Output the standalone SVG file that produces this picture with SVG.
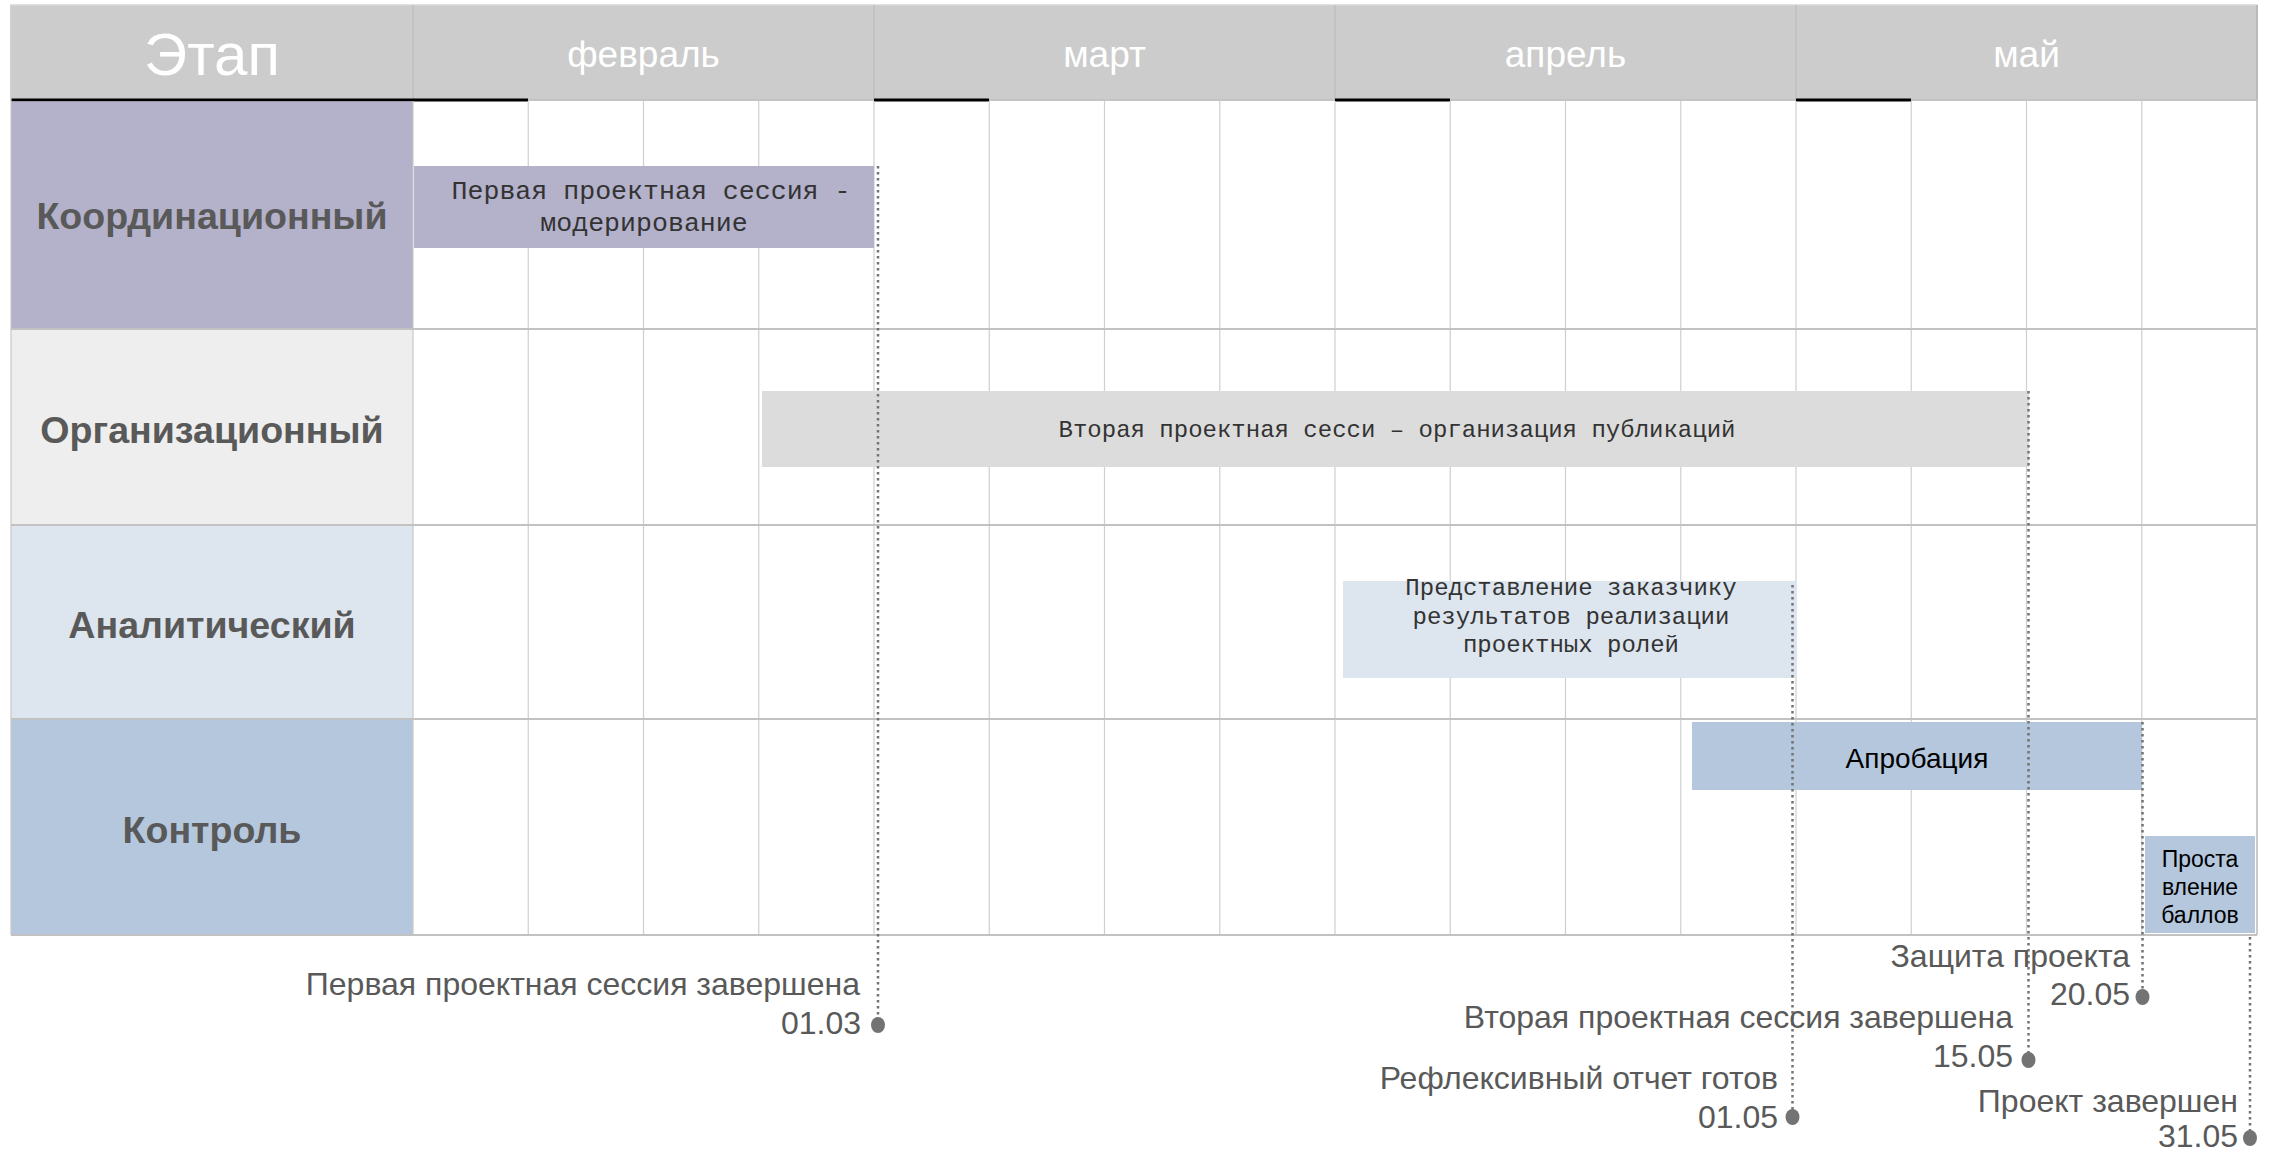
<svg xmlns="http://www.w3.org/2000/svg" width="2270" height="1153" viewBox="0 0 2270 1153">
<style>
.grid{stroke:#cfcfcf;stroke-width:1.2}
.rowline{stroke:#c2c2c2;stroke-width:1.8}
.hsep{stroke:#bdbdbd;stroke-width:1.2}
.thick{stroke:#000;stroke-width:3}
.stage{font-family:"Liberation Sans",Arial,sans-serif;font-weight:bold;font-size:37.6px;fill:#595959;text-anchor:middle}
.month{font-family:"Liberation Sans",Arial,sans-serif;font-size:37px;fill:#ffffff;text-anchor:middle}
.mono{font-family:"Liberation Mono","Courier New",monospace;fill:#333333;text-anchor:middle}
.sans{font-family:"Liberation Sans",Arial,sans-serif;fill:#000000;text-anchor:middle}
.ms{font-family:"Liberation Sans",Arial,sans-serif;font-size:32px;fill:#595959;text-anchor:end}
.dl{stroke:#737373;stroke-width:2.5;stroke-dasharray:2.5 3.5;fill:none}
.dot{fill:#737373}
</style>
<rect x="0" y="0" width="2270" height="1153" fill="#ffffff"/>

<!-- header -->
<g id="header">
  <rect x="11" y="5" width="2246" height="95" fill="#cccccc" stroke="#d6d6d6" stroke-width="1.5"/>
  <line class="hsep" x1="413" y1="5" x2="413" y2="100"/>
  <line class="hsep" x1="874" y1="5" x2="874" y2="100"/>
  <line class="hsep" x1="1335" y1="5" x2="1335" y2="100"/>
  <line class="hsep" x1="1796" y1="5" x2="1796" y2="100"/>
  <line x1="2257" y1="5" x2="2257" y2="100" stroke="#b0b0b0" stroke-width="1.5"/>
  <line x1="11" y1="100" x2="2257" y2="100" stroke="#bdbdbd" stroke-width="1.5"/>
  <text x="212" y="75" font-family="Liberation Sans, Arial, sans-serif" font-size="60" fill="#ffffff" text-anchor="middle">Этап</text>
  <text class="month" x="643.5" y="67">февраль</text>
  <text class="month" x="1104.5" y="67">март</text>
  <text class="month" x="1565.5" y="67">апрель</text>
  <text class="month" x="2026.5" y="67">май</text>
  <line class="thick" x1="11" y1="100" x2="528" y2="100"/>
  <line class="thick" x1="874" y1="100" x2="989" y2="100"/>
  <line class="thick" x1="1335" y1="100" x2="1450" y2="100"/>
  <line class="thick" x1="1796" y1="100" x2="1911" y2="100"/>
</g>

<!-- stage cells -->
<g id="stage-coord">
  <rect x="11" y="101.5" width="402" height="227.5" fill="#b4b1ca"/>
  <text class="stage" x="212" y="229">Координационный</text>
</g>
<g id="stage-org">
  <rect x="11" y="329" width="402" height="196" fill="#eeeeee"/>
  <text class="stage" x="212" y="443">Организационный</text>
</g>
<g id="stage-anal">
  <rect x="11" y="525" width="402" height="194" fill="#dde5ee"/>
  <text class="stage" x="212" y="638">Аналитический</text>
</g>
<g id="stage-ctrl">
  <rect x="11" y="719" width="402" height="216" fill="#b4c7dd"/>
  <text class="stage" x="212" y="843">Контроль</text>
</g>

<!-- grid -->
<g id="grid">
  <line class="grid" x1="528.25" y1="101" x2="528.25" y2="935"/>
  <line class="grid" x1="643.5" y1="101" x2="643.5" y2="935"/>
  <line class="grid" x1="758.75" y1="101" x2="758.75" y2="935"/>
  <line class="grid" x1="874" y1="101" x2="874" y2="935"/>
  <line class="grid" x1="989.25" y1="101" x2="989.25" y2="935"/>
  <line class="grid" x1="1104.5" y1="101" x2="1104.5" y2="935"/>
  <line class="grid" x1="1219.75" y1="101" x2="1219.75" y2="935"/>
  <line class="grid" x1="1335" y1="101" x2="1335" y2="935"/>
  <line class="grid" x1="1450.25" y1="101" x2="1450.25" y2="935"/>
  <line class="grid" x1="1565.5" y1="101" x2="1565.5" y2="935"/>
  <line class="grid" x1="1680.75" y1="101" x2="1680.75" y2="935"/>
  <line class="grid" x1="1796" y1="101" x2="1796" y2="935"/>
  <line class="grid" x1="1911.25" y1="101" x2="1911.25" y2="935"/>
  <line class="grid" x1="2026.5" y1="101" x2="2026.5" y2="935"/>
  <line class="grid" x1="2141.75" y1="101" x2="2141.75" y2="935"/>
  <line x1="413" y1="101" x2="413" y2="935" stroke="#c8c8c8" stroke-width="1.2"/>
  <line x1="2257" y1="100" x2="2257" y2="935" stroke="#b8b8b8" stroke-width="1.5"/>
  <line x1="11" y1="5" x2="11" y2="935" stroke="#c8c8c8" stroke-width="1.2"/>
  <line class="rowline" x1="11" y1="329" x2="2257" y2="329"/>
  <line class="rowline" x1="11" y1="525" x2="2257" y2="525"/>
  <line class="rowline" x1="11" y1="719" x2="2257" y2="719"/>
  <line class="rowline" x1="11" y1="935" x2="2257" y2="935"/>
</g>

<!-- bars -->
<g id="bar-first-session">
  <rect x="414" y="166" width="460" height="82" fill="#b4b1ca"/>
  <text class="mono" font-size="26.6" x="651" y="199">Первая проектная сессия -</text>
  <text class="mono" font-size="26.6" x="644" y="231">модерирование</text>
</g>
<g id="bar-second-session">
  <rect x="762" y="391" width="1267" height="76" fill="#dcdcdc"/>
  <text class="mono" font-size="24" x="1397" y="437">Вторая проектная сесси – организация публикаций</text>
</g>
<g id="bar-presentation">
  <rect x="1343" y="581" width="454" height="97" fill="#dde5ee"/>
  <text class="mono" font-size="24" x="1571" y="595">Представление заказчику</text>
  <text class="mono" font-size="24" x="1571" y="624">результатов реализации</text>
  <text class="mono" font-size="24" x="1571" y="652">проектных ролей</text>
</g>
<g id="bar-approbation">
  <rect x="1692" y="722" width="450" height="68" fill="#b4c7dd"/>
  <text class="sans" font-size="28" x="1917" y="768">Апробация</text>
</g>
<g id="bar-grading">
  <rect x="2145" y="836" width="110" height="97" fill="#b4c7dd"/>
  <text class="sans" font-size="23" x="2200" y="867">Проста</text>
  <text class="sans" font-size="23" x="2200" y="895">вление</text>
  <text class="sans" font-size="23" x="2200" y="923">баллов</text>
</g>

<!-- connectors -->
<g id="connectors">
  <line class="dl" x1="878" y1="166" x2="878" y2="1025"/>
  <line class="dl" x1="1792.5" y1="585" x2="1792.5" y2="1117"/>
  <line class="dl" x1="2028.5" y1="391" x2="2028.5" y2="1060"/>
  <line class="dl" x1="2142.5" y1="722" x2="2142.5" y2="997"/>
  <line class="dl" x1="2250" y1="937" x2="2250" y2="1138"/>
</g>

<!-- milestones -->
<g id="ms-0103">
  <ellipse class="dot" cx="878" cy="1025" rx="7" ry="8"/>
  <text class="ms" x="860" y="995">Первая проектная сессия завершена</text>
  <text class="ms" x="861" y="1034">01.03</text>
</g>
<g id="ms-0105">
  <ellipse class="dot" cx="1792.5" cy="1117" rx="7" ry="8"/>
  <text class="ms" x="1778" y="1089">Рефлексивный отчет готов</text>
  <text class="ms" x="1778" y="1128">01.05</text>
</g>
<g id="ms-1505">
  <ellipse class="dot" cx="2028.5" cy="1060" rx="7" ry="8"/>
  <text class="ms" x="2013" y="1028">Вторая проектная сессия завершена</text>
  <text class="ms" x="2013" y="1067">15.05</text>
</g>
<g id="ms-2005">
  <ellipse class="dot" cx="2142.5" cy="997" rx="7" ry="8"/>
  <text class="ms" x="2130" y="967">Защита проекта</text>
  <text class="ms" x="2130" y="1005">20.05</text>
</g>
<g id="ms-3105">
  <ellipse class="dot" cx="2250" cy="1138" rx="7" ry="8"/>
  <text class="ms" x="2238" y="1112">Проект завершен</text>
  <text class="ms" x="2238" y="1147">31.05</text>
</g>
</svg>
